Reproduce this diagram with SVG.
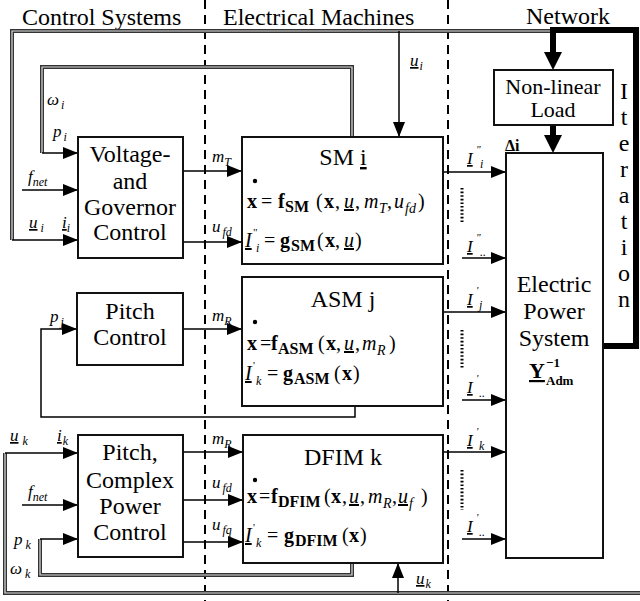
<svg xmlns="http://www.w3.org/2000/svg" width="640" height="601" viewBox="0 0 640 601" font-family="'Liberation Serif','DejaVu Serif','Times New Roman',serif">
<defs>
<style>
text, tspan{font-family:"Liberation Serif","DejaVu Serif","Times New Roman",serif;fill:#000}
.h{font-size:24px}
.bt{font-size:24px;text-anchor:middle}
.eq{font-size:20px}
.b{font-weight:bold}
.it{font-style:italic}
.s{font-size:14px}
.sb{font-size:16px}
.ss{font-size:12px}
.pr{font-size:11px}
.lab{font-size:17px;font-style:italic}
.u{text-decoration:underline}
.box{fill:#fff;stroke:#111;stroke-width:2}
.ln{fill:none;stroke:#000;stroke-width:1.5}
.dbl{fill:none;stroke:#333;stroke-width:4}
.dbl2{fill:none;stroke:#ddd;stroke-width:1.2}
.dash{stroke:#000;stroke-width:2;stroke-dasharray:9 6}
.thick{fill:none;stroke:#000;stroke-width:6}
.dots{stroke:#000;stroke-width:3;stroke-dasharray:1.6 2}
</style>
<marker id="ah" viewBox="0 0 15 12" refX="15" refY="6" markerWidth="15" markerHeight="12" markerUnits="userSpaceOnUse" orient="auto"><path d="M0,0 L15,6 L0,12 z" fill="#000"/></marker>
</defs>
<rect width="640" height="601" fill="#fff"/>

<g id="headers">
<text class="h" x="22" y="25">Control Systems</text>
<text class="h" x="223" y="25">Electrical Machines</text>
<text class="h" x="526" y="24">Network</text>
</g>

<g id="separators">
<line class="dash" x1="205" y1="0" x2="205" y2="601"/>
<line class="dash" x1="448" y1="0" x2="448" y2="601"/>
</g>

<g id="connectors">
<path class="dbl" d="M12,240 V31 H553"/>
<path class="dbl2" d="M12,240 V31 H553"/>
<path class="dbl" d="M352,137 V67 H42 V153"/>
<path class="dbl2" d="M352,137 V67 H42 V153"/>
<path class="dbl" d="M352,563 V575 H40 V539"/>
<path class="dbl2" d="M352,563 V575 H40 V539"/>
<path class="dbl" d="M5,453 V593 H640"/>
<path class="dbl2" d="M5,453 V593 H640"/>
<path class="ln" d="M355,406 V417 H41 V329 H77" marker-end="url(#ah)"/>
<line class="ln" x1="12" y1="240" x2="78" y2="240" marker-end="url(#ah)"/>
<line class="ln" x1="42" y1="153" x2="78" y2="153" marker-end="url(#ah)"/>
<line class="ln" x1="40" y1="539" x2="78" y2="539" marker-end="url(#ah)"/>
<line class="ln" x1="5" y1="453" x2="78" y2="453" marker-end="url(#ah)"/>
<line class="ln" x1="22" y1="190" x2="78" y2="190" marker-end="url(#ah)"/>
<line class="ln" x1="22" y1="505" x2="78" y2="505" marker-end="url(#ah)"/>
<line class="ln" x1="183" y1="171" x2="242" y2="171" marker-end="url(#ah)"/>
<line class="ln" x1="183" y1="242" x2="242" y2="242" marker-end="url(#ah)"/>
<line class="ln" x1="183" y1="329" x2="242" y2="329" marker-end="url(#ah)"/>
<line class="ln" x1="183" y1="452" x2="243" y2="452" marker-end="url(#ah)"/>
<line class="ln" x1="183" y1="500" x2="243" y2="500" marker-end="url(#ah)"/>
<line class="ln" x1="183" y1="542" x2="243" y2="542" marker-end="url(#ah)"/>
<line class="ln" x1="399" y1="31" x2="399" y2="137" marker-end="url(#ah)"/>
<line class="ln" x1="398" y1="593" x2="398" y2="563" marker-end="url(#ah)"/>
<line class="ln" x1="443" y1="172" x2="506" y2="172" marker-end="url(#ah)"/>
<line class="ln" x1="462" y1="258" x2="506" y2="258" marker-end="url(#ah)"/>
<line class="ln" x1="443" y1="312" x2="506" y2="312" marker-end="url(#ah)"/>
<line class="ln" x1="462" y1="400" x2="506" y2="400" marker-end="url(#ah)"/>
<line class="ln" x1="443" y1="452" x2="506" y2="452" marker-end="url(#ah)"/>
<line class="ln" x1="462" y1="539" x2="506" y2="539" marker-end="url(#ah)"/>
<line class="dots" x1="462" y1="188" x2="462" y2="222"/>
<line class="dots" x1="462" y1="330" x2="462" y2="368"/>
<line class="dots" x1="462" y1="470" x2="462" y2="510"/>
<path class="thick" d="M553,55 V30 H636 V346 H603"/>
<polygon points="544,52 562,52 553,70" fill="#000"/>
<line class="thick" x1="553" y1="125" x2="553" y2="138"/>
<polygon points="544,135 562,135 553,153" fill="#000"/>
</g>

<g id="labels">
<text class="lab" x="47" y="105">ω<tspan class="ss" dx="2" dy="4">i</tspan></text>
<text class="lab" x="53" y="137">p<tspan class="ss" dx="2" dy="4">i</tspan></text>
<text class="lab" x="28" y="182">f<tspan class="ss" dy="4">net</tspan></text>
<text class="lab" x="29" y="228"><tspan class="u">u</tspan><tspan class="ss" dx="3" dy="4">i</tspan></text>
<text class="lab" x="62" y="228"><tspan class="u">i</tspan><tspan class="ss" dy="4">i</tspan></text>
<text class="lab" x="212" y="162">m<tspan class="ss" dy="4">T</tspan></text>
<text class="lab" x="212" y="232">u<tspan class="ss" dx="2" dy="4">fd</tspan></text>
<text class="lab" x="410" y="66"><tspan class="u">u</tspan><tspan class="ss" dx="1" dy="4">i</tspan></text>
<text class="lab" x="50" y="322">p<tspan class="ss" dx="2" dy="4">j</tspan></text>
<text class="lab" x="212" y="321">m<tspan class="ss" dy="4">R</tspan></text>
<text class="lab" x="10" y="441"><tspan class="u">u</tspan><tspan class="ss" dx="4" dy="4">k</tspan></text>
<text class="lab" x="57" y="441"><tspan class="u">i</tspan><tspan class="ss" dx="1" dy="4">k</tspan></text>
<text class="lab" x="28" y="497">f<tspan class="ss" dy="4">net</tspan></text>
<text class="lab" x="14" y="545">p<tspan class="ss" dx="3" dy="4">k</tspan></text>
<text class="lab" x="10" y="574">ω<tspan class="ss" dx="3" dy="4">k</tspan></text>
<text class="lab" x="212" y="444">m<tspan class="ss" dy="4">R</tspan></text>
<text class="lab" x="212" y="488">u<tspan class="ss" dx="2" dy="4">fd</tspan></text>
<text class="lab" x="212" y="530">u<tspan class="ss" dx="2" dy="4">fq</tspan></text>
<text class="lab" x="416" y="584"><tspan class="u">u</tspan><tspan class="ss" dx="1" dy="4">k</tspan></text>
<text class="lab" y="164"><tspan class="u" x="467">I</tspan><tspan class="pr" x="476" y="153">"</tspan><tspan class="ss" x="480" y="168">i</tspan></text>
<text class="lab" y="252"><tspan class="u" x="467">I</tspan><tspan class="pr" x="476" y="241">"</tspan><tspan class="ss" x="480" y="256">..</tspan></text>
<text class="lab" y="305"><tspan class="u" x="467">I</tspan><tspan class="pr" x="476" y="294">'</tspan><tspan class="ss" x="479" y="309">j</tspan></text>
<text class="lab" y="393"><tspan class="u" x="467">I</tspan><tspan class="pr" x="476" y="382">'</tspan><tspan class="ss" x="479" y="397">..</tspan></text>
<text class="lab" y="446"><tspan class="u" x="467">I</tspan><tspan class="pr" x="476" y="435">'</tspan><tspan class="ss" x="479" y="450">k</tspan></text>
<text class="lab" y="532"><tspan class="u" x="467">I</tspan><tspan class="pr" x="476" y="521">'</tspan><tspan class="ss" x="479" y="536">..</tspan></text>
<text x="505" y="151" font-size="16" font-weight="bold">Δ<tspan class="u">i</tspan></text>
</g>

<g id="iteration">
<text class="bt" x="624" y="99">I</text>
<text class="bt" x="624" y="125">t</text>
<text class="bt" x="624" y="151">e</text>
<text class="bt" x="624" y="177">r</text>
<text class="bt" x="624" y="203">a</text>
<text class="bt" x="624" y="229">t</text>
<text class="bt" x="624" y="255">i</text>
<text class="bt" x="624" y="281">o</text>
<text class="bt" x="624" y="307">n</text>
</g>

<g id="voltage-governor">
<rect class="box" x="78" y="137" width="105" height="121"/>
<text class="bt" x="130" y="162">Voltage-</text>
<text class="bt" x="130" y="189">and</text>
<text class="bt" x="130" y="215">Governor</text>
<text class="bt" x="130" y="240">Control</text>
</g>

<g id="pitch-control">
<rect class="box" x="77" y="293" width="106" height="72"/>
<text class="bt" x="130" y="319">Pitch</text>
<text class="bt" x="130" y="345">Control</text>
</g>

<g id="pitch-complex-power-control">
<rect class="box" x="78" y="435" width="105" height="122"/>
<text class="bt" x="130" y="460">Pitch,</text>
<text class="bt" x="130" y="488">Complex</text>
<text class="bt" x="130" y="514">Power</text>
<text class="bt" x="130" y="540">Control</text>
</g>

<g id="sm">
<rect class="box" x="242" y="137" width="201" height="127"/>
<text class="bt" x="343" y="165">SM <tspan class="u">i</tspan></text>
<circle cx="255" cy="181" r="2.2"/>
<text class="eq" y="208"><tspan class="b" x="247">x</tspan><tspan x="261">=</tspan><tspan class="b" x="278">f</tspan><tspan class="b sb" x="285" y="212">SM</tspan><tspan x="316" y="208">(</tspan><tspan class="b" x="324">x</tspan><tspan x="335">,</tspan><tspan class="it u" x="344">u</tspan><tspan x="355">,</tspan><tspan class="it" x="364">m</tspan><tspan class="it s" x="379" y="213">T</tspan><tspan x="387" y="208">,</tspan><tspan class="it" x="394">u</tspan><tspan class="it s" x="405" y="213">fd</tspan><tspan x="418" y="208">)</tspan></text>
<text class="eq" y="247"><tspan class="it u" x="245">I</tspan><tspan class="pr" x="253" y="236">"</tspan><tspan class="it ss" x="256" y="252">i</tspan><tspan x="264" y="247">=</tspan><tspan class="b" x="280">g</tspan><tspan class="b sb" x="291" y="251">SM</tspan><tspan x="317" y="247">(</tspan><tspan class="b" x="325">x</tspan><tspan x="335">,</tspan><tspan class="it u" x="344">u</tspan><tspan x="355">)</tspan></text>
</g>

<g id="asm">
<rect class="box" x="242" y="277" width="201" height="129"/>
<text class="bt" x="343" y="307">ASM j</text>
<circle cx="255" cy="322" r="2.2"/>
<text class="eq" y="350"><tspan class="b" x="247">x</tspan><tspan x="260">=</tspan><tspan class="b" x="271">f</tspan><tspan class="b sb" x="278" y="354">ASM</tspan><tspan x="318" y="350">(</tspan><tspan class="b" x="326">x</tspan><tspan x="336">,</tspan><tspan class="it u" x="344">u</tspan><tspan x="355">,</tspan><tspan class="it" x="362">m</tspan><tspan class="it s" x="377" y="355">R</tspan><tspan x="389" y="350">)</tspan></text>
<text class="eq" y="380"><tspan class="it u" x="245">I</tspan><tspan class="pr" x="253" y="369">'</tspan><tspan class="it ss" x="256" y="385">k</tspan><tspan x="267" y="380">=</tspan><tspan class="b" x="283">g</tspan><tspan class="b sb" x="294" y="384">ASM</tspan><tspan x="334" y="380">(</tspan><tspan class="b" x="342">x</tspan><tspan x="353">)</tspan></text>
</g>

<g id="dfim">
<rect class="box" x="243" y="435" width="200" height="128"/>
<text class="bt" x="343" y="465">DFIM k</text>
<circle cx="255" cy="480" r="2.2"/>
<text class="eq" y="503"><tspan class="b" x="247">x</tspan><tspan x="259">=</tspan><tspan class="b" x="271">f</tspan><tspan class="b sb" x="278" y="507">DFIM</tspan><tspan x="324" y="503">(</tspan><tspan class="b" x="331">x</tspan><tspan x="342">,</tspan><tspan class="it u" x="349">u</tspan><tspan x="360">,</tspan><tspan class="it" x="368">m</tspan><tspan class="it s" x="383" y="508">R</tspan><tspan x="392" y="503">,</tspan><tspan class="it u" x="398">u</tspan><tspan class="it s" x="409" y="508">f</tspan><tspan x="421" y="503">)</tspan></text>
<text class="eq" y="542"><tspan class="it u" x="245">I</tspan><tspan class="pr" x="253" y="531">'</tspan><tspan class="it ss" x="256" y="547">k</tspan><tspan x="267" y="542">=</tspan><tspan class="b" x="284">g</tspan><tspan class="b sb" x="295" y="546">DFIM</tspan><tspan x="342" y="542">(</tspan><tspan class="b" x="349">x</tspan><tspan x="360">)</tspan></text>
</g>

<g id="non-linear-load">
<rect class="box" x="494" y="70" width="119" height="55"/>
<text class="bt" x="553" y="94" style="font-size:22px">Non-linear</text>
<text class="bt" x="553" y="117" style="font-size:22px">Load</text>
</g>

<g id="electric-power-system">
<rect class="box" x="506" y="153" width="97" height="405"/>
<text class="bt" x="554" y="292">Electric</text>
<text class="bt" x="554" y="319">Power</text>
<text class="bt" x="554" y="346">System</text>
<text x="529" y="378" font-size="22" font-weight="bold"><tspan class="u">Y</tspan></text>
<text x="546" y="367" font-size="13" font-weight="bold">−1</text>
<text x="546" y="385" font-size="13" font-weight="bold">Adm</text>
</g>
</svg>
